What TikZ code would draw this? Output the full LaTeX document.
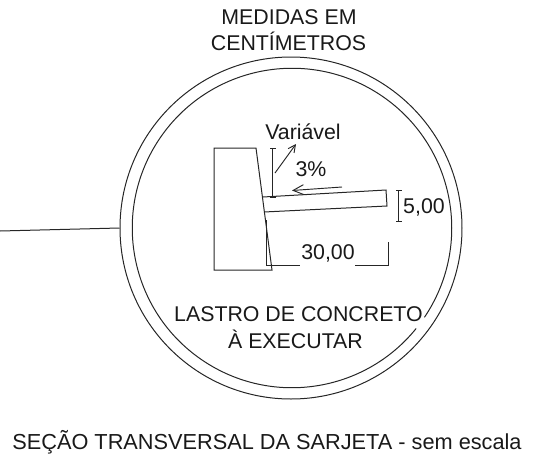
\documentclass[tikz,border=0pt]{standalone}
\usepackage{fontspec}
\setmainfont{Liberation Sans}
\usetikzlibrary{arrows.meta}
\tikzset{
  x=0.75pt,y=-0.75pt,
  ln/.style={draw=black!85,line width=0.75pt,line join=miter},
  thin ln/.style={draw=black!85,line width=0.7pt},
  lab/.style={inner sep=0pt,text=black!90,font=\fontsize{16}{18}\selectfont,anchor=center,align=center},
  head/.style={-{Straight Barb[length=5.5pt,width=5.5pt]}},
  head big/.style={-{Straight Barb[length=8pt,width=7.5pt]}},
}
\begin{document}
\begin{tikzpicture}
\useasboundingbox (0,0) rectangle (540,461);
% ring
\node[circle,ln,minimum size=256.5pt,inner sep=0pt] (ring) at (291,228) {};
\coordinate (ic) at (292,228);
\draw[ln] (ic) ++(-34:119.8pt) arc[start angle=-34,end angle=321,radius=119.8pt];
% leader
\coordinate (leadstart) at (0,231);
\draw[ln] (leadstart) -- (ring.west);
% wall
\coordinate (wa) at (214,148); \coordinate (wb) at (256,148);
\coordinate (wc) at (272,270); \coordinate (wd) at (214,270);
\draw[ln] (wa) -- (wb) -- (wc) -- (wd) -- cycle;
% slab
\coordinate (sa) at (263,197); \coordinate (sb) at (386,190);
\coordinate (sc) at (387,206); \coordinate (sd) at (264,212);
\draw[ln] (sa) -- (sb) -- (sc) -- (sd);
% Variavel dimension
\coordinate (va) at (272.5,148); \coordinate (vb) at (272.5,197);
\draw[thin ln] (va) -- (vb);
\draw[thin ln] (270,148) -- (276,148);
\draw[thin ln] (270,197) -- (276,197);
\coordinate (aa) at (275,173); \coordinate (ab) at (296,144);
\draw[thin ln,head] (aa) -- (ab);
% slope
\coordinate (pa) at (342,187); \coordinate (pb) at (292,190.5);
\draw[thin ln,head big] (pa) -- (pb);
% 5,00 dimension
\coordinate (fa) at (398.5,190); \coordinate (fb) at (398.5,221);
\draw[thin ln] (fa) -- (fb);
\draw[thin ln] (396,190) -- (402,190);
\draw[thin ln] (396,221) -- (402,221);
% 30,00 dimension
\node[lab] (thirty) at (328,253) {30,00};
\coordinate (ta) at (266,220); \coordinate (tb) at (266,265);
\coordinate (tc) at (300,265); \coordinate (td) at (355,265);
\coordinate (te) at (388.5,265); \coordinate (tf) at (388.5,242);
\draw[thin ln] (ta) -- (tb) -- (tc);
\draw[thin ln] (td) -- (te) -- (tf);
% texts
\node[lab] (t1) at (289,17) {MEDIDAS EM};
\node[lab] (t2) at (288.5,41) {CENTÍMETROS};
\node[lab] (var) at (303,132) {Variável};
\node[lab] (pct) at (311,169) {3\%};
\node[lab] (five) at (424,207) {5,00};
\node[lab] (l1) at (298.5,314) {LASTRO DE CONCRETO};
\node[lab] (l2) at (295.5,339) {À EXECUTAR};
\node[lab,font=\fontsize{16.3}{18}\selectfont] (cap) at (267,442) {SEÇÃO TRANSVERSAL DA SARJETA - sem escala};
\end{tikzpicture}
\end{document}
